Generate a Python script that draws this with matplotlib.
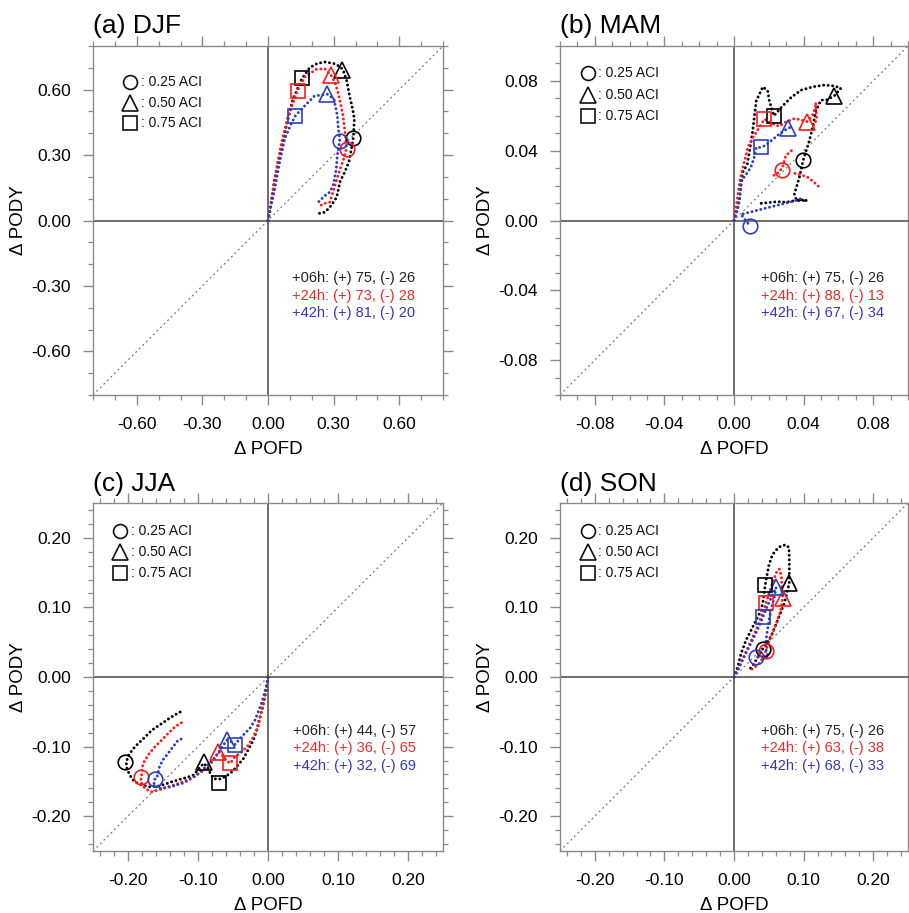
import numpy as np
import matplotlib
matplotlib.use('Agg')
import matplotlib.pyplot as plt
from matplotlib.ticker import MultipleLocator, FormatStrFormatter

plt.rcParams['font.family'] = ['Liberation Sans', 'DejaVu Sans']
plt.rcParams['axes.unicode_minus'] = False

nan = np.nan
leads = ['+06h', '+24h', '+42h']

# ---------------- (a) DJF ----------------
djf_06_x = [0, 0.008, 0.015, 0.03, 0.053, 0.084, 0.114, 0.155, 0.19, 0.225, 0.259, 0.3, 0.33, 0.343, 0.36,
            0.373, 0.385, 0.395, 0.39, 0.38, 0.37, 0.35, 0.33, 0.314, 0.283, 0.26, 0.22]
djf_06_y = [0, 0.04, 0.084, 0.19, 0.297, 0.434, 0.556, 0.65, 0.7, 0.72, 0.727, 0.72, 0.705, 0.69, 0.64,
            0.571, 0.52, 0.465, 0.38, 0.32, 0.27, 0.22, 0.18, 0.107, 0.061, 0.038, 0.03]
djf_24_x = [0, 0.01, 0.025, 0.045, 0.065, 0.09, 0.134, 0.17, 0.221, 0.259, 0.293, 0.31, 0.32, 0.333, 0.343,
            0.354, 0.358, 0.345, 0.335, 0.32, 0.3, 0.282, 0.25, 0.23]
djf_24_y = [0, 0.06, 0.15, 0.27, 0.37, 0.47, 0.594, 0.66, 0.693, 0.696, 0.66, 0.62, 0.587, 0.53, 0.48,
            0.389, 0.328, 0.28, 0.251, 0.206, 0.14, 0.084, 0.076, 0.06]
djf_42_x = [0, 0.01, 0.03, 0.053, 0.076, 0.1, 0.125, 0.168, 0.213, 0.271, 0.302, 0.317, 0.322, 0.328, 0.317,
            0.312, 0.3, 0.283, 0.26, 0.23]
djf_42_y = [0, 0.05, 0.14, 0.266, 0.373, 0.43, 0.48, 0.526, 0.571, 0.579, 0.556, 0.48, 0.42, 0.366, 0.3,
            0.236, 0.168, 0.13, 0.114, 0.084]
djf_circle_x = [0.39, 0.36, 0.33]
djf_circle_y = [0.38, 0.33, 0.365]
djf_tri_x = [0.34, 0.29, 0.27]
djf_tri_y = [0.69, 0.665, 0.58]
djf_sq_x = [0.155, 0.135, 0.125]
djf_sq_y = [0.655, 0.595, 0.48]
djf_pos = [75, 73, 81]
djf_neg = [26, 28, 20]

# ---------------- (b) MAM ----------------
mam_06_x = [0, 0.003, 0.005, 0.0077, 0.0105, 0.0128, 0.0166, 0.0194, 0.0203, 0.0229, 0.028, 0.0328, 0.0385,
            0.0452, 0.0519, 0.0576, 0.0614, 0.0576, 0.053, 0.05, 0.047, 0.0452, 0.0433, 0.0398, 0.0376,
            0.0347, 0.036, 0.042, 0.038, 0.034, 0.03, 0.025, 0.02, 0.0145]
mam_06_y = [0, 0.012, 0.0276, 0.0324, 0.0495, 0.0686, 0.0766, 0.0743, 0.0686, 0.06, 0.0657, 0.0705, 0.0747,
            0.0766, 0.0776, 0.0771, 0.0758, 0.0714, 0.069, 0.069, 0.0629, 0.0533, 0.0457, 0.0347, 0.0248,
            0.0152, 0.0115, 0.0114, 0.012, 0.0112, 0.0105, 0.0108, 0.0103, 0.0097]
mam_24_x = [0, 0.0023, 0.0032, 0.0042, 0.0061, 0.008, 0.0109, 0.0128, 0.0175, 0.022, 0.026, 0.03, 0.035,
            0.042, 0.045, 0.0468, 0.047, 0.0475, 0.0455, nan, 0.033, 0.0297, 0.0278, 0.024, 0.0222, nan,
            0.035, 0.039, 0.0421, 0.0459, 0.0488]
mam_24_y = [0, 0.0152, 0.0219, 0.0267, 0.0343, 0.042, 0.0476, 0.0505, 0.0581, 0.0555, 0.054, 0.0565, 0.0585,
            0.0567, 0.06, 0.065, 0.0675, 0.058, 0.054, nan, 0.04, 0.037, 0.0301, 0.026, 0.0259, nan,
            0.027, 0.026, 0.025, 0.022, 0.0194]
mam_42_x = [0, 0.002, 0.0032, 0.004, 0.006, 0.0097, 0.0116, 0.0128, 0.0153, 0.018, 0.0213, 0.026, 0.0309,
            0.034, nan, 0.038, 0.034, 0.028, 0.022, 0.016, 0.01, 0.004, 0.009]
mam_42_y = [0, 0.006, 0.0114, 0.0229, 0.025, 0.0305, 0.0362, 0.0419, 0.0419, 0.043, 0.0457, 0.0495, 0.0528,
            0.054, nan, 0.0124, 0.011, 0.0095, 0.008, 0.0065, 0.005, 0.0035, -0.0029]
mam_circle_x = [0.0398, 0.0276, 0.009]
mam_circle_y = [0.0347, 0.029, -0.0029]
mam_tri_x = [0.0576, 0.042, 0.031]
mam_tri_y = [0.0714, 0.0567, 0.0528]
mam_sq_x = [0.0229, 0.0175, 0.0153]
mam_sq_y = [0.06, 0.0581, 0.0419]
mam_pos = [75, 88, 67]
mam_neg = [26, 13, 34]

# ---------------- (c) JJA ----------------
jja_06_x = [0, -0.003, -0.008, -0.0134, -0.016, -0.021, -0.028, -0.035, -0.0447, -0.054, -0.0636, -0.07,
            -0.0777, -0.0826, -0.086, -0.092, -0.1067, -0.116, -0.1258, -0.1377, -0.147, -0.157, -0.1689,
            -0.1808, -0.1904, -0.1976, -0.2023, -0.2023, -0.199, -0.19, -0.178, -0.166, -0.152, -0.138, -0.121]
jja_06_y = [0, -0.0215, -0.045, -0.0646, -0.0765, -0.0908, -0.104, -0.117, -0.129, -0.1387, -0.1444, -0.147,
            -0.146, -0.138, -0.13, -0.124, -0.141, -0.1444, -0.147, -0.1507, -0.154, -0.157, -0.1578,
            -0.155, -0.1507, -0.141, -0.129, -0.122, -0.112, -0.1, -0.0885, -0.0765, -0.067, -0.0574, -0.0478]
jja_24_x = [0, -0.002, -0.012, -0.0134, -0.021, -0.028, -0.0377, -0.0473, -0.054, -0.06, -0.065, -0.0708,
            -0.078, -0.09, -0.105, -0.12, -0.14, -0.155, -0.1664, -0.176, -0.182, -0.181, -0.1785, -0.1713,
            -0.1617, -0.152, -0.143, -0.133, -0.122]
jja_24_y = [0, -0.015, -0.062, -0.0694, -0.086, -0.098, -0.1076, -0.1148, -0.124, -0.12, -0.113, -0.1076,
            -0.12, -0.133, -0.143, -0.15, -0.157, -0.162, -0.165, -0.16, -0.15, -0.1435, -0.1243, -0.1124,
            -0.1004, -0.0908, -0.0813, -0.0717, -0.0646]
jja_42_x = [0, -0.002, -0.0096, -0.0187, -0.026, -0.033, -0.04, -0.047, -0.053, -0.059, -0.065, -0.075,
            -0.09, -0.105, -0.12, -0.14, -0.1568, -0.163, -0.162, -0.159, -0.155, -0.1505, -0.143, -0.1358,
            -0.1284, -0.1225]
jja_42_y = [0, -0.012, -0.039, -0.062, -0.074, -0.081, -0.0885, -0.097, -0.093, -0.0908, -0.1, -0.115,
            -0.13, -0.143, -0.152, -0.158, -0.1602, -0.155, -0.147, -0.1458, -0.129, -0.1195, -0.11, -0.1004,
            -0.0908, -0.0885]
jja_circle_x = [-0.2047, -0.181, -0.162]
jja_circle_y = [-0.122, -0.1435, -0.147]
jja_tri_x = [-0.092, -0.0708, -0.059]
jja_tri_y = [-0.122, -0.1076, -0.0908]
jja_sq_x = [-0.07, -0.054, -0.047]
jja_sq_y = [-0.153, -0.124, -0.097]
jja_pos = [44, 36, 32]
jja_neg = [57, 65, 69]

# ---------------- (d) SON ----------------
son_06_x = [0, 0.0053, 0.01, 0.0171, 0.0243, 0.0314, 0.0386, 0.042, 0.0448, 0.05, 0.055, 0.06, 0.067, 0.0743,
            0.079, 0.0795, 0.0795, 0.076, 0.072, 0.066, 0.06, 0.054, 0.048, 0.041, 0.035, 0.028, 0.02]
son_06_y = [0, 0.0143, 0.0333, 0.0524, 0.0667, 0.081, 0.0952, 0.11, 0.132, 0.16, 0.175, 0.182, 0.188, 0.19,
            0.186, 0.165, 0.1357, 0.12, 0.105, 0.09, 0.075, 0.06, 0.05, 0.04, 0.03, 0.018, 0.008]
son_24_x = [0, 0.005, 0.012, 0.02, 0.028, 0.035, 0.04, 0.0462, 0.052, 0.058, 0.062, 0.0653, 0.068, 0.07,
            0.067, 0.062, 0.057, 0.052, 0.048, 0.046, 0.042, 0.035, 0.027, 0.02]
son_24_y = [0, 0.01, 0.025, 0.042, 0.06, 0.075, 0.09, 0.107, 0.125, 0.142, 0.153, 0.155, 0.145, 0.114,
            0.095, 0.08, 0.067, 0.055, 0.045, 0.038, 0.028, 0.018, 0.012, 0.009]
son_42_x = [0, 0.008, 0.016, 0.024, 0.031, 0.036, 0.0414, 0.047, 0.053, 0.0605, 0.058, 0.054, 0.05, 0.047,
            0.045, 0.047, 0.05, 0.045, 0.038, 0.032]
son_42_y = [0, 0.015, 0.032, 0.048, 0.062, 0.073, 0.0857, 0.1, 0.113, 0.1286, 0.115, 0.1, 0.08, 0.06,
            0.045, 0.035, 0.029, 0.028, 0.028, 0.0286]
son_circle_x = [0.041, 0.046, 0.032]
son_circle_y = [0.04, 0.038, 0.0286]
son_tri_x = [0.0795, 0.07, 0.0605]
son_tri_y = [0.1357, 0.114, 0.1286]
son_sq_x = [0.0448, 0.0462, 0.0414]
son_sq_y = [0.132, 0.107, 0.0857]
son_pos = [75, 63, 68]
son_neg = [26, 38, 33]

aci_labels = [': 0.25 ACI', ': 0.50 ACI', ': 0.75 ACI']

panels = [
    dict(title='(a) DJF', lim=0.8, major=0.3, minor=0.1,
         curves=[(djf_06_x, djf_06_y), (djf_24_x, djf_24_y), (djf_42_x, djf_42_y)],
         circ=(djf_circle_x, djf_circle_y), tri=(djf_tri_x, djf_tri_y), sq=(djf_sq_x, djf_sq_y),
         pos=djf_pos, neg=djf_neg, rect=[93, 46, 350, 349], leg=(0.106, 0.896, 0.058), txt=(0.57, 0.335)),
    dict(title='(b) MAM', lim=0.1, major=0.04, minor=0.01,
         curves=[(mam_06_x, mam_06_y), (mam_24_x, mam_24_y), (mam_42_x, mam_42_y)],
         circ=(mam_circle_x, mam_circle_y), tri=(mam_tri_x, mam_tri_y), sq=(mam_sq_x, mam_sq_y),
         pos=mam_pos, neg=mam_neg, rect=[560, 46, 348, 349], leg=(0.08, 0.922, 0.061), txt=(0.578, 0.335)),
    dict(title='(c) JJA', lim=0.25, major=0.1, minor=0.02,
         curves=[(jja_06_x, jja_06_y), (jja_24_x, jja_24_y), (jja_42_x, jja_42_y)],
         circ=(jja_circle_x, jja_circle_y), tri=(jja_tri_x, jja_tri_y), sq=(jja_sq_x, jja_sq_y),
         pos=jja_pos, neg=jja_neg, rect=[93, 503, 350, 348], leg=(0.078, 0.92, 0.06), txt=(0.571, 0.345)),
    dict(title='(d) SON', lim=0.25, major=0.1, minor=0.02,
         curves=[(son_06_x, son_06_y), (son_24_x, son_24_y), (son_42_x, son_42_y)],
         circ=(son_circle_x, son_circle_y), tri=(son_tri_x, son_tri_y), sq=(son_sq_x, son_sq_y),
         pos=son_pos, neg=son_neg, rect=[560, 503, 348, 348], leg=(0.08, 0.92, 0.06), txt=(0.578, 0.345)),
]

W, H = 909, 913
fig = plt.figure(figsize=(W / 100, H / 100), dpi=100)

line_cols = ['#000000', '#ff1a1a', '#2a3fbf']
text_cols = ['#222222', '#f02828', '#3838b0']
frame_col = '#8a8a8a'

for p in panels:
    l, t, w, h = p['rect']
    ax = fig.add_axes([l / W, 1 - (t + h) / H, w / W, h / H])
    lim = p['lim']
    ax.set_xlim(-lim, lim)
    ax.set_ylim(-lim, lim)
    ax.xaxis.set_major_locator(MultipleLocator(p['major']))
    ax.yaxis.set_major_locator(MultipleLocator(p['major']))
    ax.xaxis.set_minor_locator(MultipleLocator(p['minor']))
    ax.yaxis.set_minor_locator(MultipleLocator(p['minor']))
    ax.xaxis.set_major_formatter(FormatStrFormatter('%.2f'))
    ax.yaxis.set_major_formatter(FormatStrFormatter('%.2f'))
    ax.tick_params(which='both', direction='out', top=True, right=True, color=frame_col)
    ax.tick_params(which='major', length=7, width=1.0, labelsize=12.5, pad=9)
    ax.tick_params(which='minor', length=3.5, width=0.9)
    for s in ax.spines.values():
        s.set_color(frame_col)
        s.set_linewidth(1.0)
    # zero lines and diagonal
    ax.axhline(0, color='#555555', lw=1.2, zorder=1)
    ax.axvline(0, color='#555555', lw=1.2, zorder=1)
    ax.plot([-lim, lim], [-lim, lim], color='#777777', lw=0.9, ls=(0, (1.5, 2.5)), zorder=1)
    # curves
    for (cx, cy), c in zip(p['curves'], line_cols):
        ax.plot(cx, cy, color=c, lw=2.1, ls=(0, (0.05, 1.5)), dash_capstyle='round', zorder=3)
    # ACI markers
    for (mx, my), mk, ms in [(p['circ'], 'o', 10.5), (p['tri'], '^', 11.5), (p['sq'], 's', 10)]:
        for xx, yy, c in zip(mx, my, line_cols):
            ax.plot([xx], [yy], marker=mk, ms=ms, mfc='none', mec=c, mew=1.2, ls='none', zorder=4)
    # legend
    lx, ly, dy = p['leg']
    for i, (mk, ms, lab) in enumerate(zip(['o', '^', 's'], [10, 11, 10], aci_labels)):
        yy = ly - i * dy
        ax.plot([lx], [yy], marker=mk, ms=ms, mfc='none', mec='#111111', mew=1.2, ls='none',
                transform=ax.transAxes, clip_on=False)
        ax.text(lx + 0.03, yy, lab, transform=ax.transAxes, fontsize=10, va='center', ha='left',
                color='#111111')
    # stats text
    tx, ty = p['txt']
    for i, (ld, pv, nv, tc) in enumerate(zip(leads, p['pos'], p['neg'], text_cols)):
        ax.text(tx, ty - i * 0.05, f'{ld}: (+) {pv}, (-) {nv}', transform=ax.transAxes,
                fontsize=10.5, va='center', ha='left', color=tc)
    ax.set_xlabel('\u0394 POFD', fontsize=13.5, labelpad=6)
    ax.set_ylabel('\u0394 PODY', fontsize=13.5, labelpad=3)
    ax.set_title(p['title'], fontsize=19, loc='left', pad=9)

fig.savefig('out.png', dpi=100)
